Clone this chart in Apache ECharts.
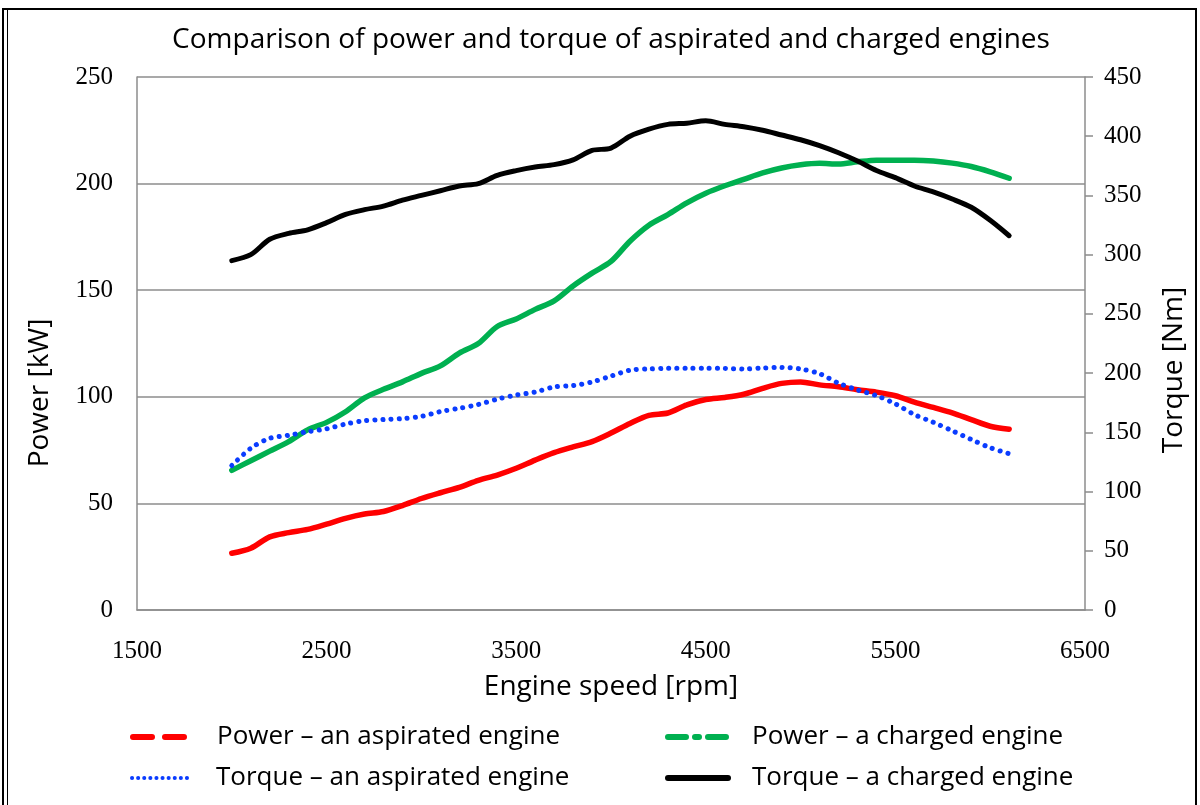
<!DOCTYPE html>
<html>
<head>
<meta charset="utf-8">
<script src="https://cdn.jsdelivr.net/npm/echarts@6/dist/echarts.min.js"></script>
<style>
html,body{margin:0;padding:0;background:#fff;}
#chart{width:1200px;height:805px;}
</style>
</head>
<body>
<div id="chart"></div>
<script>
const engineSpeed = [2000,2100,2200,2300,2400,2500,2600,2700,2800,2900,3000,3100,3200,3300,3400,3500,3600,3700,3800,3900,4000,4100,4200,4300,4400,4500,4600,4700,4800,4900,5000,5100,5200,5300,5400,5500,5600,5700,5800,5900,6000,6100];
const powerAspirated = [26.6,29,34.3,36.3,37.8,40.3,43,45,46.2,49,52.3,55,57.5,60.8,63.3,66.5,70.3,73.8,76.5,79,83,87.5,91.3,92.4,96.2,98.7,99.7,101.2,104,106.3,107,105.6,104.7,103.3,102.2,100.5,97.5,95,92.5,89.3,86.2,84.8];
const powerCharged = [65.5,70,74.5,79,84.5,88,93,99.5,103.5,107,111,114.5,120.5,125,133,136.5,141,145,152,158,163.5,173,180.5,185.5,191,195.5,199,202,205,207.3,208.8,209.5,209.2,210.2,211,211,211,210.6,209.6,208,205.5,202.5];
const torqueAspirated = [122,136.5,145,147.5,150.5,153,157,159.8,160.8,161.6,163.5,167.5,170.3,173.5,178,181.5,184,188.4,189.5,192.5,197.5,202.5,203.5,204,204,204,204,203.5,204.3,204.8,203.5,199.5,191.5,185.8,181,174,165,158.5,151.3,144,137,132];
const torqueCharged = [295,300,313,318,321,327,334,338,341,346,350,354,358,360,367,371,374,376,380,388,390,400,406,410,411,413,410,408,405,401,397,392,386,379,371,365,358,353,347,340,329,316];

const seriesNames = ['Power – an aspirated engine','Power – a charged engine','Torque – an aspirated engine','Torque – a charged engine'];
const titleText = 'Comparison of power and torque of aspirated and charged engines';
const xName = 'Engine speed [rpm]';
const yLeftName = 'Power [kW]';
const yRightName = 'Torque [Nm]';

const pair = arr => engineSpeed.map((x,i)=>[x,arr[i]]);
const sans = 'Open Sans';
const serif = 'Liberation Serif';
const gridColor = '#8c8c8c';
const colors = ['#ff0000','#00b050','#0a3cff','#000000'];
const clear = 'rgba(0,0,0,0)';

function legendFor(idx, left, top, lineStyle){
  return {
    id:'legend'+idx, left:left, top:top, orient:'horizontal',
    itemWidth:60, itemHeight:14, padding:0,
    textStyle:{fontFamily:sans, fontSize:26, color:'#000', lineHeight:30, padding:[0,0,0,19]},
    data:[{name:seriesNames[idx], lineStyle:lineStyle, itemStyle:{color:clear, borderColor:clear, borderWidth:0}}]
  };
}

const chart = echarts.init(document.getElementById('chart'), null, {renderer:'canvas'});
chart.setOption({
  animation:false,
  backgroundColor:'#fff',
  title:{
    text:titleText, left:611, textAlign:'center', top:23, padding:0,
    textStyle:{fontFamily:sans, fontSize:28, fontWeight:'normal', color:'#000', lineHeight:34}
  },
  grid:{left:137, right:115, top:77, bottom:195, containLabel:false},
  xAxis:{
    type:'value', min:1500, max:6500, interval:1000,
    name:xName, nameLocation:'middle', nameGap:63,
    nameTextStyle:{fontFamily:sans, fontSize:28, color:'#000'},
    axisLine:{show:true, lineStyle:{color:gridColor, width:1.5}},
    axisTick:{show:false},
    axisLabel:{fontFamily:serif, fontSize:25, color:'#000', margin:29, formatter:v=>String(v)},
    splitLine:{show:false}
  },
  yAxis:[{
    type:'value', min:0, max:250, interval:50, position:'left',
    axisLine:{show:true, lineStyle:{color:gridColor, width:1.5}},
    axisTick:{show:false},
    axisLabel:{fontFamily:serif, fontSize:25, color:'#000', margin:24, formatter:v=>String(v)},
    splitLine:{show:true, lineStyle:{color:gridColor, width:1.5}}
  },{
    type:'value', min:0, max:450, interval:50, position:'right',
    axisLine:{show:true, lineStyle:{color:gridColor, width:1.5}},
    axisTick:{show:true, length:8, inside:false, lineStyle:{color:gridColor, width:1.5}},
    axisLabel:{fontFamily:serif, fontSize:25, color:'#000', margin:19, formatter:v=>String(v)},
    splitLine:{show:false}
  }],
  graphic:[
    {type:'text', x:40, y:393, rotation:Math.PI/2,
     style:{text:yLeftName, fontFamily:sans, fontSize:28, fill:'#000', align:'center', verticalAlign:'middle'}},
    {type:'text', x:1174, y:370, rotation:Math.PI/2,
     style:{text:yRightName, fontFamily:sans, fontSize:28, fill:'#000', align:'center', verticalAlign:'middle'}},
    {type:'rect', shape:{x:3, y:9, width:1193, height:820}, style:{fill:null, stroke:'#000', lineWidth:2}, silent:true},
    {type:'line', shape:{x1:7.5, y1:9, x2:7.5, y2:805}, style:{stroke:'#000', lineWidth:1}, silent:true}
  ],
  legend:[
    legendFor(0, 130, 722, {type:[19,13], width:6, color:colors[0]}),
    legendFor(2, 130, 763, {type:[0.1,6], width:4, cap:'round', color:colors[2]}),
    legendFor(1, 665, 722, {type:[18,9,4,9], width:6, color:colors[1]}),
    legendFor(3, 665, 763, {type:'solid', width:6, color:colors[3]})
  ],
  series:[
    {name:seriesNames[0], type:'line', yAxisIndex:0, data:pair(powerAspirated), smooth:0.3, symbol:'none',
     lineStyle:{color:colors[0], width:5.5, cap:'round'}, itemStyle:{color:colors[0]}, z:3},
    {name:seriesNames[1], type:'line', yAxisIndex:0, data:pair(powerCharged), smooth:0.3, symbol:'none',
     lineStyle:{color:colors[1], width:5.5, cap:'round'}, itemStyle:{color:colors[1]}, z:3},
    {name:seriesNames[2], type:'line', yAxisIndex:1, data:pair(torqueAspirated), smooth:0.3, symbol:'none',
     lineStyle:{color:colors[2], width:5, type:[0.1,8], cap:'round'}, itemStyle:{color:colors[2]}, z:4},
    {name:seriesNames[3], type:'line', yAxisIndex:1, data:pair(torqueCharged), smooth:0.3, symbol:'none',
     lineStyle:{color:colors[3], width:5, cap:'round'}, itemStyle:{color:colors[3]}, z:3}
  ]
});
</script>
</body>
</html>
